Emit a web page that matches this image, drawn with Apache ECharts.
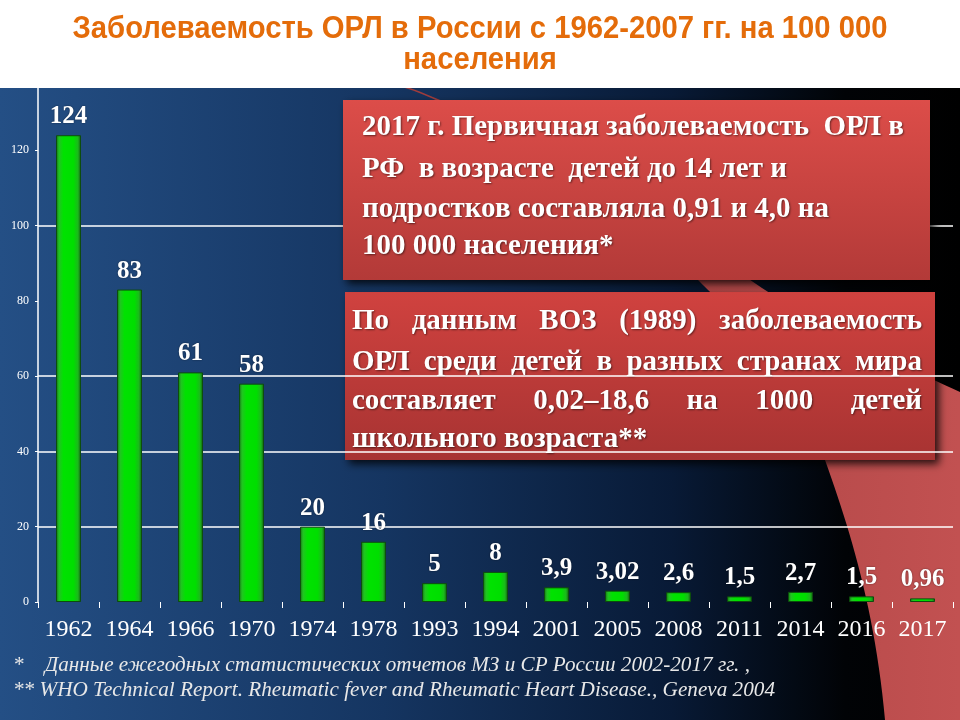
<!DOCTYPE html>
<html>
<head>
<meta charset="utf-8">
<script src="https://cdn.jsdelivr.net/npm/echarts@6/dist/echarts.min.js"></script>
<style>html,body{margin:0;padding:0;background:#fff}#c{width:960px;height:720px}</style>
</head>
<body>
<div id="c"></div>
<script>
const categories = ['1962','1964','1966','1970','1974','1978','1993','1994','2001','2005','2008','2011','2014','2016','2017'];
const values = [124, 83, 61, 58, 20, 16, 5, 8, 3.9, 3.02, 2.6, 1.5, 2.7, 1.5, 0.96];
const valueLabels = ['124','83','61','58','20','16','5','8','3,9','3,02','2,6','1,5','2,7','1,5','0,96'];
const yTickValues = [0, 20, 40, 60, 80, 100, 120];

const titleLines = ['Заболеваемость ОРЛ в России с 1962-2007 гг. на 100 000', 'населения'];
const box1Lines = ['2017 г. Первичная заболеваемость  ОРЛ в', 'РФ  в возрасте  детей до 14 лет и', 'подростков составляла 0,91 и 4,0 на', '100 000 населения*'];
const box2Lines = ['По данным ВОЗ (1989) заболеваемость', 'ОРЛ среди детей в разных странах мира', 'составляет 0,02–18,6 на 1000 детей', 'школьного возраста**'];
const footnotes = ['*    Данные ежегодных статистических отчетов МЗ и СР России 2002-2017 гг. ,', '** WHO Technical Report. Rheumatic fever and Rheumatic Heart Disease., Geneva 2004'];

const cv = document.createElement('canvas').getContext('2d');
function measure(text, font) { cv.font = font; return cv.measureText(text).width; }

// sample a chain of cubic bezier segments into polygon points
function bezierPoints(start, segs) {
  const pts = [start];
  let p0 = start;
  segs.forEach(function (s) {
    if (s.length === 1) { pts.push(s[0]); p0 = s[0]; return; }
    const c1 = s[0], c2 = s[1], p3 = s[2];
    for (let i = 1; i <= 24; i++) {
      const t = i / 24, u = 1 - t;
      pts.push([
        u*u*u*p0[0] + 3*u*u*t*c1[0] + 3*u*t*t*c2[0] + t*t*t*p3[0],
        u*u*u*p0[1] + 3*u*u*t*c1[1] + 3*u*t*t*c2[1] + t*t*t*p3[1]
      ]);
    }
    p0 = p3;
  });
  return pts;
}

const SERIF = '"Liberation Serif", "Times New Roman", serif';
const box1Font = 'bold 29px ' + SERIF;
const box2Font = 'bold 29px ' + SERIF;
const titleFont = 'bold 31px "Liberation Sans", Arial, sans-serif';
const footFont = 'italic 22px ' + SERIF;

const graphics = [];
// dark background panel
graphics.push({
  type: 'rect', z: -10, shape: {x: 0, y: 88, width: 960, height: 632},
  style: {fill: new echarts.graphic.LinearGradient(0, 0, 1, 0, [
    {offset: 0, color: '#244f85'}, {offset: 0.4, color: '#153561'},
    {offset: 0.7, color: '#081a36'}, {offset: 0.88, color: '#010306'}, {offset: 1, color: '#000000'}])}
});
// red swoosh
const swooshPts = bezierPoints([405, 88], [
  [[470, 108], [620, 200], [703, 285]],
  [[760, 340], [805, 400], [825, 460]],
  [[850, 530], [875, 610], [885, 720]],
  [[960, 720]],
  [[960, 392]],
  [[900, 365], [820, 325], [762, 288]],
  [[640, 205], [480, 112], [410, 88]]
]);
graphics.push({
  type: 'polygon', z: -5,
  shape: {points: swooshPts},
  style: {fill: new echarts.graphic.LinearGradient(0, 0, 1, 0, [
    {offset: 0, color: '#9e3b3b'}, {offset: 1, color: '#c25151'}])}
});
// box 2 (under the grid lines)
graphics.push({
  type: 'rect', z: -1, shape: {x: 345, y: 292, width: 590, height: 168},
  style: {fill: new echarts.graphic.LinearGradient(0, 0, 0, 1, [
    {offset: 0, color: '#d0423f'}, {offset: 1, color: '#a73332'}]),
    shadowBlur: 8, shadowColor: 'rgba(0,0,0,0.8)', shadowOffsetX: 4, shadowOffsetY: 4}
});
const textShadow = {textShadowColor: 'rgba(0,0,0,0.5)', textShadowBlur: 2, textShadowOffsetX: 1, textShadowOffsetY: 1};
function txt(z, x, y, text, font, extra) {
  const st = Object.assign({text: text, font: font, fill: '#ffffff', align: 'left', verticalAlign: 'middle'}, extra || {});
  return {type: 'text', z: z, x: x, y: y, style: st};
}
const b2y = [322, 363, 402, 440];
const b2x0 = 352, b2x1 = 922;
box2Lines.forEach(function (line, i) {
  const words = line.split(' ');
  if (i < box2Lines.length - 1) {
    const widths = words.map(function (w) { return measure(w, box2Font); });
    const total = widths.reduce(function (a, b) { return a + b; }, 0);
    const gap = (b2x1 - b2x0 - total) / (words.length - 1);
    let x = b2x0;
    words.forEach(function (w, k) {
      graphics.push(txt(-1, x, b2y[i], w, box2Font, textShadow));
      x += widths[k] + gap;
    });
  } else {
    graphics.push(txt(-1, b2x0, b2y[i], line, box2Font, textShadow));
  }
});
// box 1 (above the grid lines)
graphics.push({
  type: 'rect', z: 10, shape: {x: 343, y: 100, width: 587, height: 180},
  style: {fill: new echarts.graphic.LinearGradient(0, 0, 0, 1, [
    {offset: 0, color: '#dc4d49'}, {offset: 1, color: '#b33a38'}]),
    shadowBlur: 8, shadowColor: 'rgba(0,0,0,0.8)', shadowOffsetX: 4, shadowOffsetY: 4}
});
const b1y = [128, 170, 210, 247];
box1Lines.forEach(function (line, i) {
  graphics.push(txt(10, 362, b1y[i], line, box1Font, textShadow));
});
// title
const tScale = 815 / measure(titleLines[0], titleFont);
const titleY = [29, 60];
titleLines.forEach(function (line, i) {
  const el = txt(10, 480, titleY[i], line, titleFont, {fill: '#e46c0a', align: 'center'});
  el.scaleX = tScale;
  graphics.push(el);
});
// footnotes
const footTargets = [737, 762];
const footY = [665, 690];
footnotes.forEach(function (line, i) {
  const el = txt(10, 13, footY[i], line, footFont, {fill: '#e8e8e8'});
  el.scaleX = footTargets[i] / measure(line, footFont);
  graphics.push(el);
});

const chart = echarts.init(document.getElementById('c'));
const transparent = 'rgba(0,0,0,0)';
chart.setOption({
  backgroundColor: '#ffffff',
  animation: false,
  grid: {left: 38, right: 7, top: 75, bottom: 118, containLabel: false},
  xAxis: {
    type: 'category', data: categories,
    axisLine: {show: false},
    axisTick: {show: true, length: 6, interval: 0, lineStyle: {color: '#ffffff', width: 1}},
    axisLabel: {color: '#ffffff', fontFamily: SERIF, fontSize: 24, margin: 16, interval: 0}
  },
  yAxis: {
    type: 'value', min: 0, max: 140, interval: 20,
    axisLine: {show: true, lineStyle: {color: '#ffffff', width: 1.5}},
    axisTick: {show: true, length: 3, lineStyle: {color: '#ffffff'}},
    axisLabel: {color: '#ffffff', fontFamily: SERIF, fontSize: 12, margin: 9,
      formatter: function (v) { return yTickValues.indexOf(v) >= 0 ? String(v) : ''; }},
    splitLine: {show: true, lineStyle: {width: 1.5,
      color: [transparent, '#ffffff', '#ffffff', '#ffffff', transparent, '#ffffff', transparent, transparent]}}
  },
  series: [{
    type: 'bar', data: values, barWidth: 25, z: 2,
    itemStyle: {
      color: new echarts.graphic.LinearGradient(0, 0, 1, 0, [
        {offset: 0, color: '#137013'}, {offset: 0.12, color: '#22c322'},
        {offset: 0.3, color: '#00e200'}, {offset: 0.7, color: '#00de00'},
        {offset: 0.88, color: '#1cb81c'}, {offset: 1, color: '#0f5a0f'}]),
      borderColor: '#0d4d0d', borderWidth: 1
    },
    label: {
      show: true, position: 'top', distance: 6,
      color: '#ffffff', fontFamily: SERIF, fontWeight: 'bold', fontSize: 25,
      textShadowColor: 'rgba(0,0,0,0.5)', textShadowBlur: 2,
      formatter: function (p) { return valueLabels[p.dataIndex]; }
    }
  }],
  graphic: {elements: graphics}
});
</script>
</body>
</html>
